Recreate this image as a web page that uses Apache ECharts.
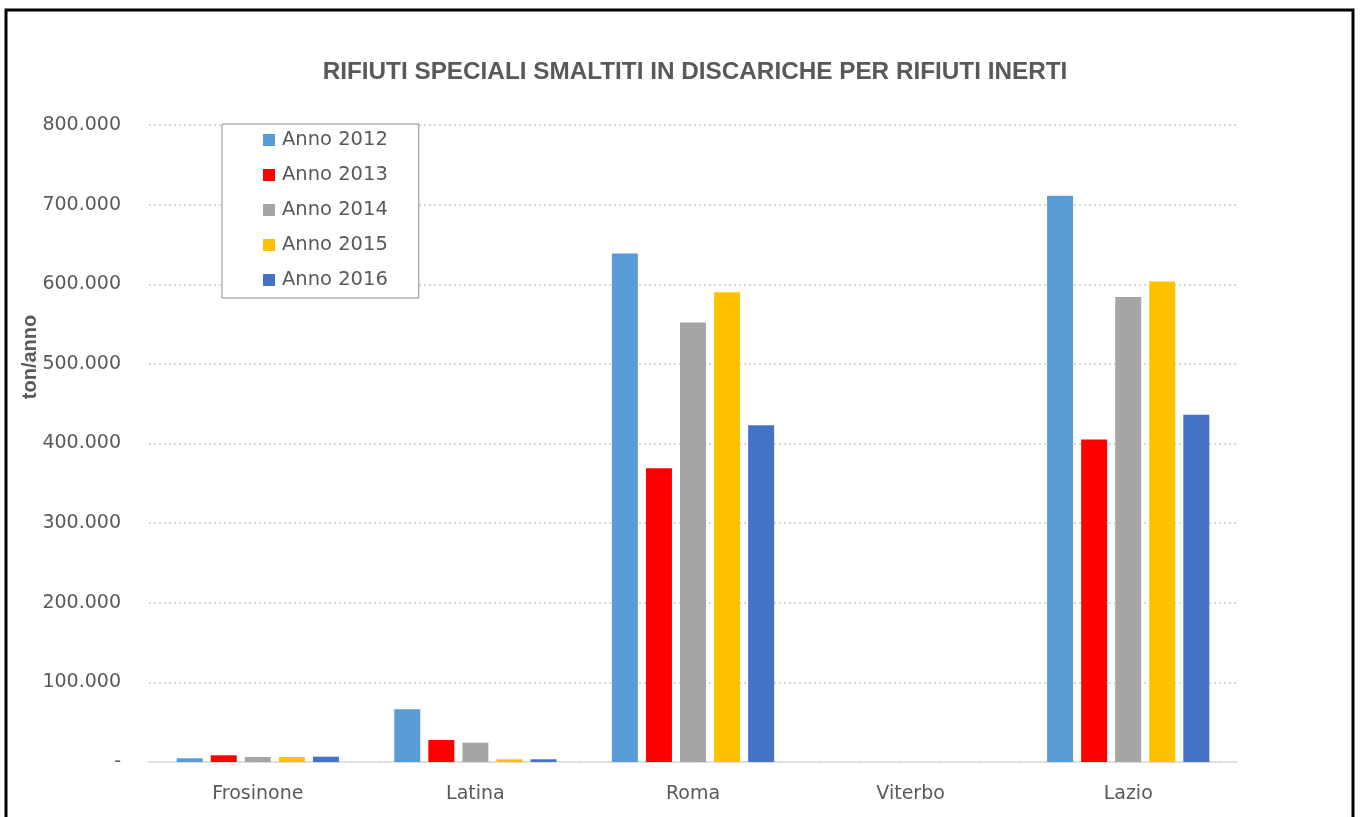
<!DOCTYPE html>
<html>
<head>
<meta charset="utf-8">
<script src="https://cdn.jsdelivr.net/npm/echarts@6/dist/echarts.min.js"></script>
<style>
html,body{margin:0;padding:0;background:#fff;}
#chart{width:1362px;height:817px;}
</style>
</head>
<body>
<div id="chart"></div>
<script>
const categories = ['Frosinone', 'Latina', 'Roma', 'Viterbo', 'Lazio'];
const seriesNames = ['Anno 2012', 'Anno 2013', 'Anno 2014', 'Anno 2015', 'Anno 2016'];
const anno2012 = [4700, 66200, 638500, 0, 711000];
const anno2013 = [8400, 27600, 369000, 0, 405000];
const anno2014 = [6300, 24300, 552000, 0, 584000];
const anno2015 = [6300, 3400, 590000, 0, 603500];
const anno2016 = [6700, 3400, 423000, 0, 436000];
const seriesValues = [anno2012, anno2013, anno2014, anno2015, anno2016];
const colors = ['#5B9BD5', '#FF0000', '#A5A5A5', '#FFC000', '#4472C4'];
const yTicks = { min: 0, max: 800000, interval: 100000 };

const chart = echarts.init(document.getElementById('chart'), null, { renderer: 'canvas' });

function fmt(v) {
  if (v === 0) return '-';
  return String(v).replace(/\B(?=(\d{3})+(?!\d))/g, '.');
}

const option = {
  animation: false,
  backgroundColor: '#fff',
  title: {
    text: 'RIFIUTI SPECIALI SMALTITI IN DISCARICHE PER RIFIUTI INERTI',
    left: 690,
    top: 55,
    textAlign: 'center',
    textStyle: {
      fontFamily: 'Liberation Sans',
      fontWeight: 'bold',
      fontSize: 24.3,
      color: '#595959'
    }
  },
  legend: {
    orient: 'vertical',
    left: 222,
    top: 124,
    padding: [6, 31, 8, 41],
    itemGap: 15,
    itemWidth: 12,
    itemHeight: 12,
    icon: 'rect',
    backgroundColor: '#fff',
    borderColor: '#8c8c8c',
    borderWidth: 1,
    borderRadius: 0,
    textStyle: {
      fontFamily: 'DejaVu Sans',
      fontSize: 19.5,
      lineHeight: 20,
      color: '#595959',
      padding: [0, 0, 0, 2]
    },
    data: seriesNames
  },
  grid: {
    left: 149,
    right: 125,
    top: 125,
    bottom: 55,
    containLabel: false
  },
  xAxis: {
    type: 'category',
    data: categories,
    axisLine: { lineStyle: { color: '#d9d9d9', width: 1.5 } },
    axisTick: { show: false },
    axisLabel: {
      margin: 23,
      fontFamily: 'DejaVu Sans',
      fontSize: 19,
      color: '#595959'
    }
  },
  yAxis: {
    type: 'value',
    min: yTicks.min,
    max: yTicks.max,
    interval: yTicks.interval,
    axisLine: { show: false },
    axisTick: { show: false },
    splitLine: { lineStyle: { color: '#d9d9d9', width: 2, type: [2, 3] } },
    axisLabel: {
      margin: 28,
      fontFamily: 'DejaVu Sans',
      fontSize: 19,
      color: '#595959',
      formatter: fmt
    }
  },
  graphic: [
    {
      type: 'rect',
      shape: { x: 6, y: 10, width: 1347, height: 900 },
      style: { fill: 'none', stroke: '#000', lineWidth: 3 },
      silent: true,
      z: 100
    },
    {
      type: 'text',
      x: 30,
      y: 357,
      rotation: Math.PI / 2,
      style: {
        text: 'ton/anno',
        fontFamily: 'Liberation Sans',
        fontWeight: 'bold',
        fontSize: 20,
        fill: '#595959',
        align: 'center',
        verticalAlign: 'middle'
      }
    }
  ],
  series: seriesNames.map((name, i) => ({
    name: name,
    type: 'bar',
    data: seriesValues[i],
    barWidth: 26,
    barGap: '31%',
    itemStyle: { color: colors[i] }
  }))
};

chart.setOption(option);
</script>
</body>
</html>
